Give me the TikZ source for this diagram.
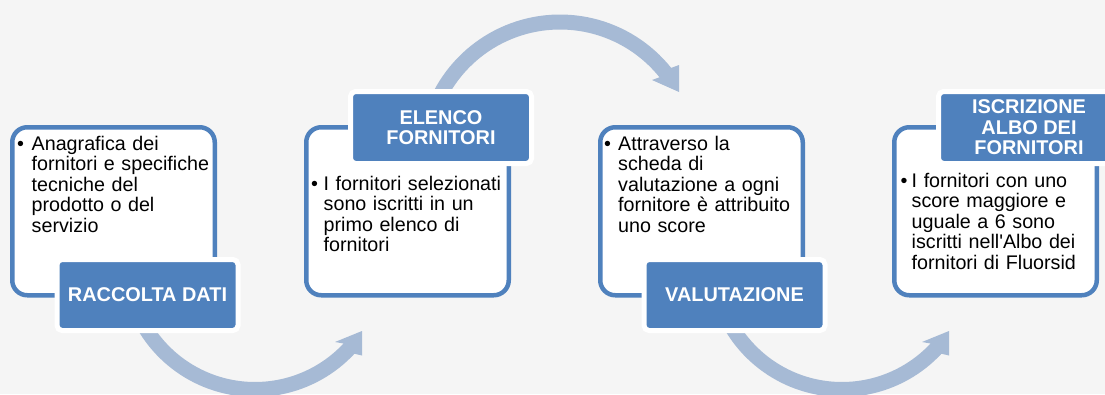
\documentclass[tikz,border=0pt]{standalone}
\usepackage{fontspec}
\setmainfont{Liberation Sans}
\definecolor{bg}{HTML}{F5F5F5}
\definecolor{accent}{HTML}{4F81BD}
\definecolor{arrowc}{HTML}{A6BAD5}
\tikzset{
  mainbox/.style={draw=accent, line width=4.5pt, fill=white, rounded corners=15pt,
    minimum width=202.5pt, minimum height=168pt, inner sep=0pt},
  labelbox/.style={draw=white, line width=5pt, fill=accent, rounded corners=5pt,
    minimum width=181pt, inner sep=0pt, text=white, align=center,
    font=\fontsize{19.9}{20.4}\selectfont\bfseries},
  bodytext/.style={anchor=base west, inner sep=0pt, text width=200pt, align=left,
    font=\fontsize{19.7}{20.6}\selectfont},
  bulletmark/.style={anchor=base west, inner sep=0pt, font=\fontsize{19.7}{20.6}\selectfont},
  curvedarrow/.style={fill=arrowc},
}
\begin{document}
\begin{tikzpicture}[x=1pt,y=-1pt]
\useasboundingbox (0,0) rectangle (1105,394);
\fill[bg] (0,0) rectangle (1105,394);

% curved block arrows
\fill[curvedarrow] plot[domain=152:43,samples=50] ({255+136*cos(\x)},{261+136*sin(\x)})
  -- (362,355.5) -- (362,331) -- (335,342)
  -- plot[domain=43:152,samples=50] ({255+121*cos(\x)},{261+121*sin(\x)}) -- cycle;
\fill[curvedarrow] plot[domain=205:321.3,samples=50] ({560+142.5*cos(\x)},{157+142.5*sin(\x)})
  -- (679,65) -- (679,92) -- (652,80)
  -- plot[domain=321.3:205,samples=50] ({560+127.5*cos(\x)},{157+127.5*sin(\x)}) -- cycle;
\fill[curvedarrow] plot[domain=152:43,samples=50] ({842+136*cos(\x)},{261+136*sin(\x)})
  -- (949,355.5) -- (949,331) -- (922,342)
  -- plot[domain=43:152,samples=50] ({842+121*cos(\x)},{261+121*sin(\x)}) -- cycle;

% main boxes
\node[mainbox] (box1) at (113.5,211.25) {};
\node[mainbox] (box2) at (407.5,211.25) {};
\node[mainbox] (box3) at (701.5,211.25) {};
\node[mainbox] (box4) at (995.5,211.25) {};

% labels
\node[labelbox, minimum height=71pt] (lab1) at (147.5,295) {RACCOLTA DATI};
\node[labelbox, minimum height=72pt] (lab2) at (441,127.5) {ELENCO\\FORNITORI};
\node[labelbox, minimum height=71pt] (lab3) at (734.5,295) {VALUTAZIONE};
\node[labelbox, minimum height=72pt] (lab4) at (1029,127.5) {ISCRIZIONE\\ALBO DEI\\FORNITORI};

% bullets
\node[bulletmark] (bul1) at (17,150) {•};
\node[bulletmark] (bul2) at (311,190) {•};
\node[bulletmark] (bul3) at (604,150) {•};
\node[bulletmark] (bul4) at (900.5,187) {•};

% texts
\node[bodytext] (txt1) at (31.5,150) {Anagrafica dei\\fornitori e specifiche\\tecniche del\\prodotto o del\\servizio};
\node[bodytext] (txt2) at (323.5,190) {I fornitori selezionati\\sono iscritti in un\\primo elenco di\\fornitori};
\node[bodytext] (txt3) at (618,150) {Attraverso la\\scheda di\\valutazione a ogni\\fornitore è attribuito\\uno score};
\node[bodytext] (txt4) at (911.5,187) {I fornitori con uno\\score maggiore e\\uguale a 6 sono\\iscritti nell\textquotesingle Albo dei\\fornitori di Fluorsid};
\end{tikzpicture}
\end{document}
